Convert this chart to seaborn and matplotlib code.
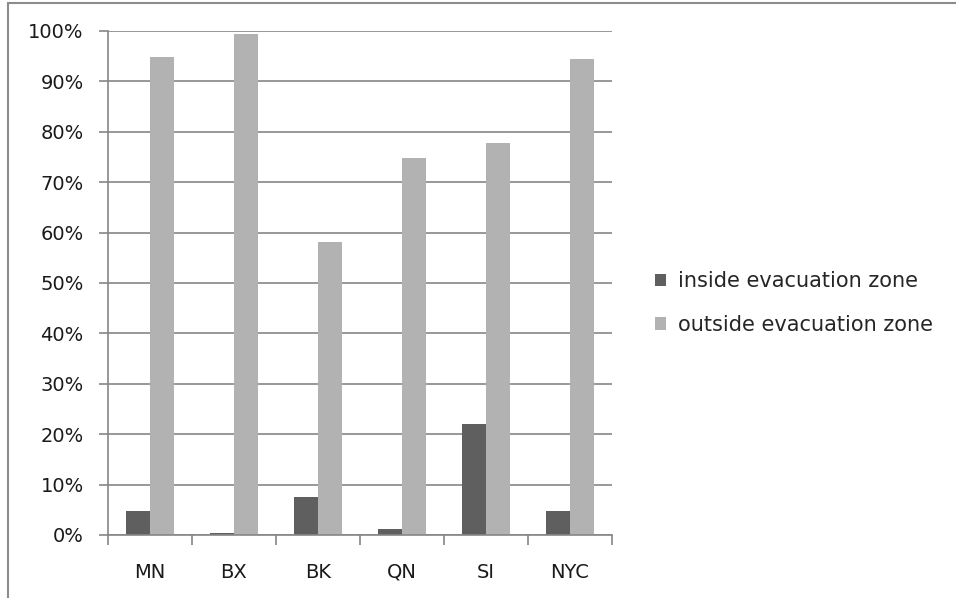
import pandas as pd
import seaborn as sns
import matplotlib.pyplot as plt
from matplotlib.lines import Line2D
from matplotlib.ticker import PercentFormatter

# Datos
zonas = ['MN', 'BX', 'BK', 'QN', 'SI', 'NYC']
dentro = [4.8, 0.4, 7.5, 1.2, 22.0, 4.8]
fuera = [94.9, 99.4, 58.1, 74.8, 77.8, 94.4]
series = ['inside evacuation zone', 'outside evacuation zone']
colores = ['#5f5f5f', '#b2b2b2']

data = pd.DataFrame({
    'zona': zonas * 2,
    'valor': dentro + fuera,
    'serie': [series[0]] * len(zonas) + [series[1]] * len(zonas),
})

sns.set_style('white')
plt.rcParams['font.family'] = ['DejaVu Sans']

fig = plt.figure(figsize=(9.56, 5.98), dpi=100)
ax = fig.add_axes([108 / 956, 63 / 598, 504 / 956, 504 / 598])

sns.barplot(data=data, x='zona', y='valor', hue='serie', palette=colores,
            width=0.571, saturation=1, ax=ax, edgecolor='none')

ax.set_ylim(0, 100)
ax.set_xlim(-0.5, len(zonas) - 0.5)
ax.set_yticks(range(0, 101, 10))
ax.yaxis.set_major_formatter(PercentFormatter(decimals=0))
ax.grid(axis='y', color='#868686', linewidth=1.2)
ax.set_axisbelow(True)
ax.set_xlabel('')
ax.set_ylabel('')

for lado in ['top', 'right']:
    ax.spines[lado].set_visible(False)
for lado in ['left', 'bottom']:
    ax.spines[lado].set_color('#868686')
    ax.spines[lado].set_linewidth(1.2)

ax.set_xticks([i - 0.5 for i in range(len(zonas) + 1)], minor=True)
ax.tick_params(axis='x', which='major', length=0, pad=20, labelsize=14, labelcolor='#1a1a1a')
ax.tick_params(axis='x', which='minor', length=7, width=1.2, color='#868686', direction='out', bottom=True)
ax.tick_params(axis='y', length=6.5, width=1.2, color='#868686', direction='out', left=True,
               labelsize=14, labelcolor='#1a1a1a', pad=11)

handles, labels = ax.get_legend_handles_labels()
ax.legend(handles, labels, loc='center left', bbox_to_anchor=(655 / 956, 1 - 303 / 598),
          bbox_transform=fig.transFigure, frameon=False, fontsize=15,
          borderpad=0, borderaxespad=0,
          handlelength=0.53, handleheight=0.53, handletextpad=0.58, labelspacing=1.15)

# marco del grafico
fig.add_artist(Line2D([8 / 956, 8 / 956], [0, 1 - 3 / 598], transform=fig.transFigure,
                      color='#8c8c8c', linewidth=1.5))
fig.add_artist(Line2D([8 / 956, 1], [1 - 3 / 598, 1 - 3 / 598], transform=fig.transFigure,
                      color='#8c8c8c', linewidth=1.5))

fig.savefig('out.png', dpi=100)
